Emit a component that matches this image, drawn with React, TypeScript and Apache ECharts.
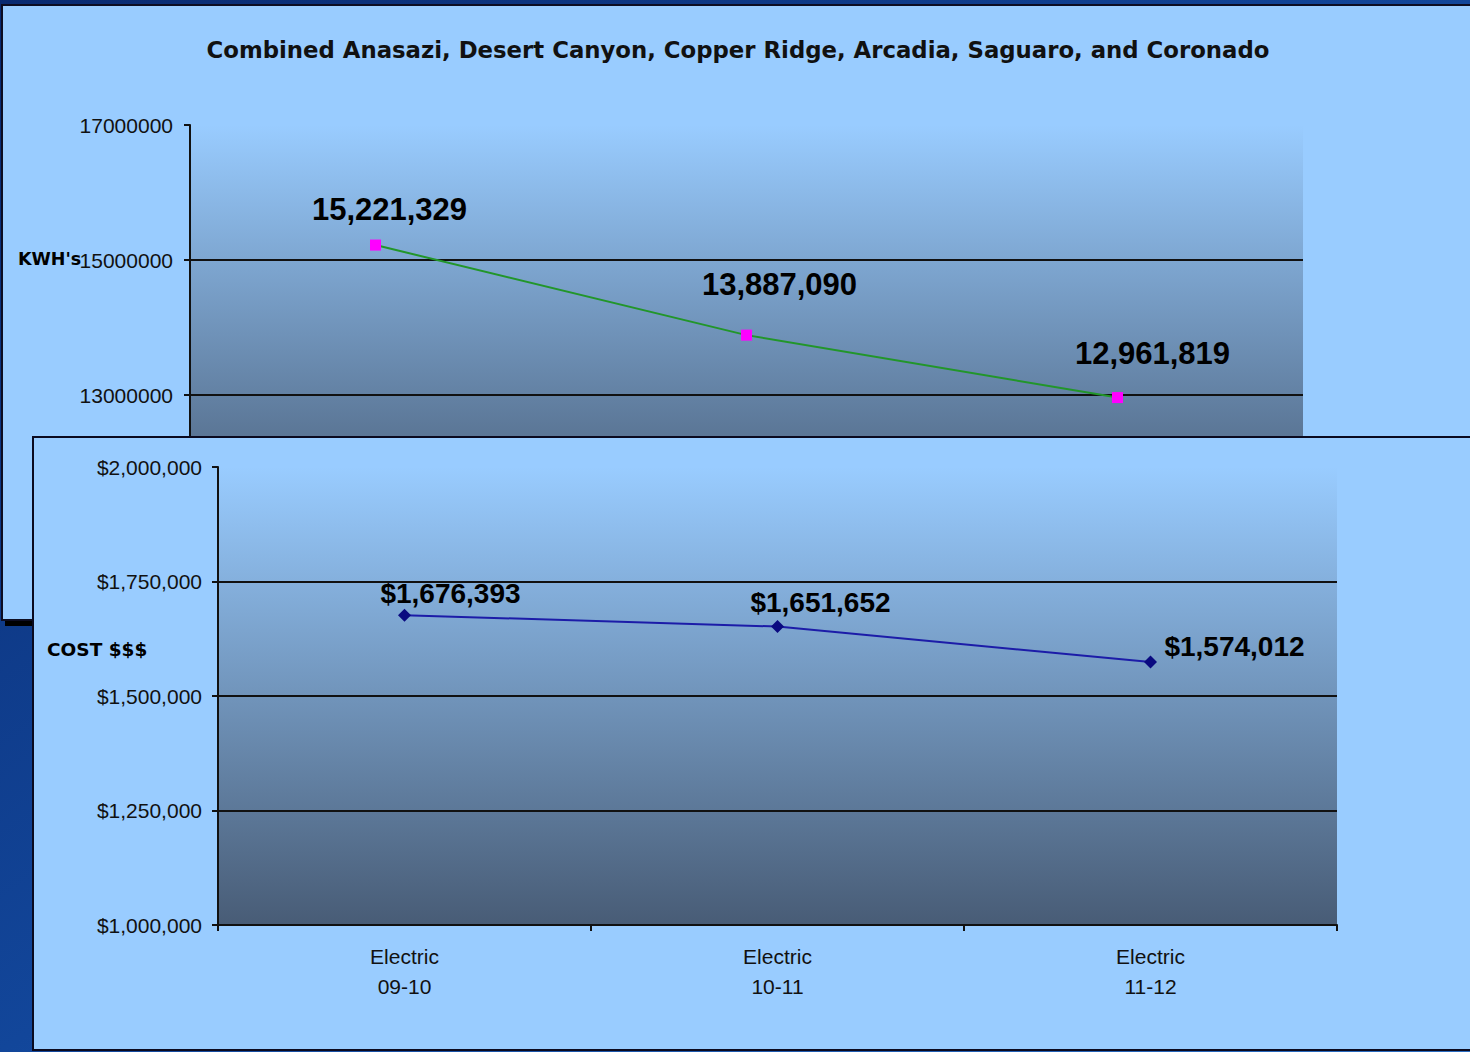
import React, { useEffect, useRef } from "react";
import * as echarts from "echarts";

const titleText = "Combined Anasazi, Desert Canyon, Copper Ridge, Arcadia, Saguaro, and Coronado";
const categories = ["Electric\n09-10", "Electric\n10-11", "Electric\n11-12"];
const kwhValues = [15221329, 13887090, 12961819];
const costValues = [1676393, 1651652, 1574012];
const kwhAxis = { min: 11000000, max: 17000000, interval: 2000000 };
const costAxis = { min: 1000000, max: 2000000, interval: 250000 };
const kwhLabelOffsets = [[14, -36], [33, -51], [35, -44]];
const costLabelOffsets = [[46, -22], [43, -24], [84, -16]];

const PANEL = "#99CCFF";
const TXT = "#111111";

function plotGradient() {
  return new echarts.graphic.LinearGradient(0, 0, 0, 1, [
    { offset: 0, color: "#99CCFF" },
    { offset: 1, color: "#485c76" },
  ]);
}

export default function App() {
  const ref = useRef<HTMLDivElement>(null);
  useEffect(() => {
    if (!ref.current) return;
    const chart = echarts.init(ref.current, null, { renderer: "svg" });
    const fmtNum = (v: number) => v.toLocaleString("en-US");
    const option: any = {
      animation: false,
      textStyle: { fontFamily: "Liberation Sans" },
      graphic: [
        {
          type: "rect",
          z: 0,
          silent: true,
          shape: { x: 0, y: 0, width: 1470, height: 1052 },
          style: {
            fill: new echarts.graphic.LinearGradient(0, 0, 1, 1, [
              { offset: 0, color: "#0a2a70" },
              { offset: 0.5, color: "#12469a" },
              { offset: 1, color: "#2a6cc0" },
            ]),
          },
        },
        {
          type: "rect",
          z: 1,
          silent: true,
          shape: { x: 2, y: 5, width: 1490, height: 615 },
          style: {
            fill: PANEL,
            stroke: "#0a0a20",
            lineWidth: 2,
            shadowColor: "#000",
            shadowBlur: 0,
            shadowOffsetX: 4,
            shadowOffsetY: 5,
          },
        },
        {
          type: "text",
          z: 2,
          silent: true,
          x: 738,
          y: 50,
          style: {
            text: titleText,
            fill: TXT,
            font: "bold 22.8px 'DejaVu Sans'",
            align: "center",
            verticalAlign: "middle",
          },
        },
        {
          type: "text",
          z: 6,
          silent: true,
          x: 18,
          y: 259,
          style: {
            text: "KWH's",
            fill: "#000",
            font: "bold 17.5px 'DejaVu Sans'",
            align: "left",
            verticalAlign: "middle",
          },
        },
        {
          type: "rect",
          z: 20,
          silent: true,
          shape: { x: 33, y: 437, width: 1460, height: 613 },
          style: { fill: PANEL, stroke: "#0a0a20", lineWidth: 2 },
        },
        {
          type: "text",
          z: 21,
          silent: true,
          x: 47,
          y: 649,
          style: {
            text: "COST $$$",
            fill: "#000",
            font: "bold 18.5px 'DejaVu Sans'",
            align: "left",
            verticalAlign: "middle",
          },
        },
      ],
      grid: [
        {
          left: 190,
          top: 125,
          width: 1113,
          height: 405,
          show: true,
          backgroundColor: plotGradient(),
          borderWidth: 0,
          z: 3,
        },
        {
          left: 218,
          top: 467,
          width: 1119,
          height: 458,
          show: true,
          backgroundColor: plotGradient(),
          borderWidth: 0,
          z: 22,
        },
      ],
      xAxis: [
        {
          type: "category",
          gridIndex: 0,
          data: categories,
          z: 4,
          axisLine: { lineStyle: { color: "#111", width: 2 } },
          axisTick: { show: false },
          axisLabel: { show: false },
        },
        {
          type: "category",
          gridIndex: 1,
          data: categories,
          z: 23,
          axisLine: { lineStyle: { color: "#111", width: 2 } },
          axisTick: { show: true, length: 6, lineStyle: { color: "#111", width: 2 } },
          axisLabel: {
            color: TXT,
            fontSize: 21,
            lineHeight: 30,
            margin: 16,
            fontFamily: "Liberation Sans",
          },
        },
      ],
      yAxis: [
        {
          type: "value",
          gridIndex: 0,
          min: kwhAxis.min,
          max: kwhAxis.max,
          interval: kwhAxis.interval,
          z: 4,
          axisLine: { show: true, lineStyle: { color: "#111", width: 2 } },
          axisTick: { show: true, length: 6, lineStyle: { color: "#111", width: 2 } },
          axisLabel: {
            color: TXT,
            fontSize: 21,
            margin: 17,
            showMinLabel: false,
            fontFamily: "Liberation Sans",
            formatter: (v: number) => String(v),
          },
          splitLine: {
            show: true,
            lineStyle: { color: ["transparent", "#111", "#111", "transparent"], width: 2 },
          },
        },
        {
          type: "value",
          gridIndex: 1,
          min: costAxis.min,
          max: costAxis.max,
          interval: costAxis.interval,
          z: 23,
          axisLine: { show: true, lineStyle: { color: "#111", width: 2 } },
          axisTick: { show: true, length: 6, lineStyle: { color: "#111", width: 2 } },
          axisLabel: {
            color: TXT,
            fontSize: 21,
            margin: 16,
            fontFamily: "Liberation Sans",
            formatter: (v: number) => "$" + fmtNum(v),
          },
          splitLine: {
            show: true,
            lineStyle: {
              color: ["transparent", "#111", "#111", "#111", "transparent"],
              width: 2,
            },
          },
        },
      ],
      series: [
        {
          type: "line",
          xAxisIndex: 0,
          yAxisIndex: 0,
          z: 5,
          symbol: "rect",
          symbolSize: 11,
          itemStyle: { color: "#FF00FF" },
          lineStyle: { color: "#22962a", width: 2 },
          data: kwhValues.map((v, i) => ({
            value: v,
            label: { offset: kwhLabelOffsets[i] },
          })),
          label: {
            show: true,
            position: "inside",
            color: "#000",
            fontSize: 31,
            fontWeight: "bold",
            fontFamily: "Liberation Sans",
            formatter: (p: any) => fmtNum(p.value),
          },
        },
        {
          type: "line",
          xAxisIndex: 1,
          yAxisIndex: 1,
          z: 24,
          symbol: "diamond",
          symbolSize: 13,
          itemStyle: { color: "#0a0a80" },
          lineStyle: { color: "#1c1ca8", width: 2 },
          data: costValues.map((v, i) => ({
            value: v,
            label: { offset: costLabelOffsets[i] },
          })),
          label: {
            show: true,
            position: "inside",
            color: "#000",
            fontSize: 28,
            fontWeight: "bold",
            fontFamily: "Liberation Sans",
            formatter: (p: any) => "$" + fmtNum(p.value),
          },
        },
      ],
    };
    chart.setOption(option);
    return () => chart.dispose();
  }, []);
  return (
    <div
      ref={ref}
      style={{ position: "absolute", left: 0, top: 0, width: 1470, height: 1052 }}
    />
  );
}
